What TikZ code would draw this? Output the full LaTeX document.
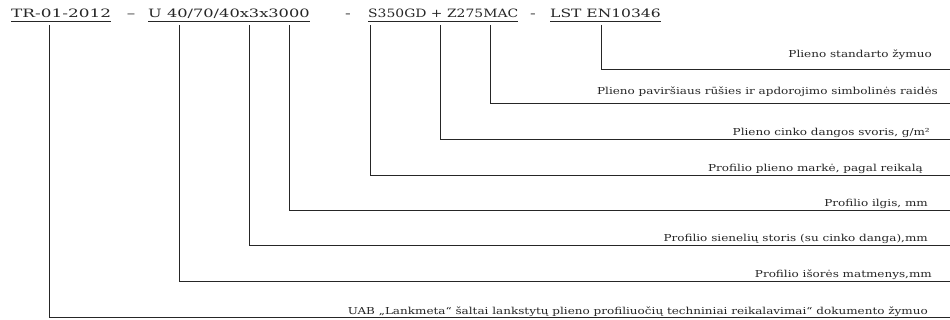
\documentclass[tikz,border=0pt]{standalone}
\usepackage{fontspec}
\setmainfont{DejaVu Serif}
\newfontfamily\trfont[FakeStretch=1.47]{DejaVu Serif}
\newfontfamily\dimfont[FakeStretch=1.41]{DejaVu Serif}
\newfontfamily\stlfont[FakeStretch=1.21]{DejaVu Serif}
\newfontfamily\stdfont[FakeStretch=1.35]{DejaVu Serif}
\newfontfamily\notefont[FakeStretch=1.25]{DejaVu Serif}
\usepackage{tikz}
\colorlet{Ink}{black!85}

\begin{document}
\begin{tikzpicture}[x=1pt, y=-1pt,
  code/.style={inner sep=0pt, anchor=base west, text=Ink},
  joiner/.style={inner sep=0pt, anchor=base, text=Ink,
               font=\trfont\fontsize{11.5}{13}\selectfont},
  note/.style={inner sep=0pt, anchor=base east, text=Ink,
               font=\notefont\fontsize{9.6}{11}\selectfont},
  lead/.style={line width=0.75pt, draw=Ink},
  uline/.style={line width=0.6pt, draw=Ink},
]
\useasboundingbox (0,0) rectangle (950,320);
% designation string
\node[code, font=\trfont\fontsize{11.5}{13}\selectfont]  (tr)  at ( 11,18) {TR-01-2012};
\node[joiner] (d1)  at (131,18) {–};
\node[code, font=\dimfont\fontsize{11.5}{13}\selectfont] (dim) at (148,18) {U 40/70/40x3x3000};
\node[joiner] (d2)  at (348,18) {-};
\node[code, font=\stlfont\fontsize{11.5}{13}\selectfont] (stl) at (368,18) {S350GD + Z275MAC};
\node[joiner] (d3)  at (533,18) {-};
\node[code, font=\stdfont\fontsize{11.5}{13}\selectfont] (std) at (550,18) {LST EN10346};
\draw[uline] ([yshift=-3pt]tr.base west)  -- ([yshift=-3pt]tr.base east);
\draw[uline] ([yshift=-3pt]dim.base west) -- ([yshift=-3pt]dim.base east);
\draw[uline] ([yshift=-3pt]stl.base west) -- ([yshift=-3pt]stl.base east);
\draw[uline] ([yshift=-3pt]std.base west) -- ([yshift=-3pt]std.base east);
% tick points under the string
\coordinate (aTR) at ( 49,25);
\coordinate (aU)  at (179,25);
\coordinate (aW)  at (249,25);
\coordinate (aL)  at (289,25);
\coordinate (aS)  at (370,25);
\coordinate (aZ)  at (440,25);
\coordinate (aM)  at (490,25);
\coordinate (aE)  at (601,25);
% right ends of the leaders
\coordinate (bE)  at (950, 69);
\coordinate (bM)  at (950,103);
\coordinate (bZ)  at (950,139);
\coordinate (bS)  at (950,175);
\coordinate (bL)  at (950,210);
\coordinate (bW)  at (950,245);
\coordinate (bU)  at (950,281);
\coordinate (bTR) at (950,317);
\node[note] (nE)  at (932, 58) {Plieno standarto žymuo};
\node[note] (nM)  at (938, 95) {Plieno paviršiaus rūšies ir apdorojimo simbolinės raidės};
\node[note] (nZ)  at (930,136) {Plieno cinko dangos svoris, g/m²};
\node[note] (nS)  at (923,172) {Profilio plieno markė, pagal reikalą};
\node[note] (nL)  at (928,207) {Profilio ilgis, mm};
\node[note] (nW)  at (928,242) {Profilio sienelių storis (su cinko danga),mm};
\node[note] (nU)  at (932,278) {Profilio išorės matmenys,mm};
\node[note] (nTR) at (928,314) {UAB „Lankmeta“ šaltai lankstytų plieno profiliuočių techniniai reikalavimai“ dokumento žymuo};
\draw[lead] (aE)  |- (bE);
\draw[lead] (aM)  |- (bM);
\draw[lead] (aZ)  |- (bZ);
\draw[lead] (aS)  |- (bS);
\draw[lead] (aL)  |- (bL);
\draw[lead] (aW)  |- (bW);
\draw[lead] (aU)  |- (bU);
\draw[lead] (aTR) |- (bTR);
\end{tikzpicture}
\end{document}
